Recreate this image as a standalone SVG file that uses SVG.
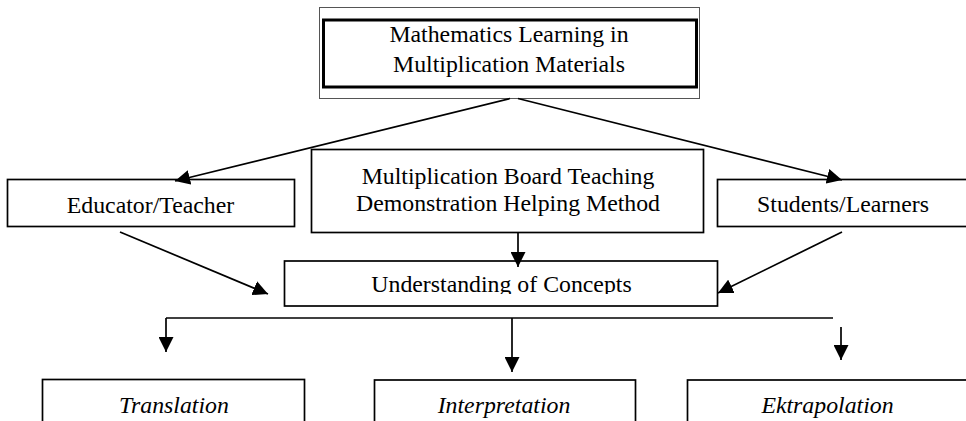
<svg xmlns="http://www.w3.org/2000/svg" width="966" height="421" viewBox="0 0 966 421">
<style>
  text { font-family: "Liberation Serif", "Times New Roman", serif; font-size: 23.8px; fill: #000; text-anchor: middle; }
  .it { font-style: italic; }
  .box { fill: #fff; stroke: #000; stroke-width: 1.7; }
  .thick { fill: #fff; stroke: #000; stroke-width: 3; }
  .thin { fill: #fff; stroke: #555; stroke-width: 1; }
  .conn { fill: none; stroke: #000; stroke-width: 1.7; }
</style>
<defs>
  <marker id="arrow" markerUnits="userSpaceOnUse" markerWidth="16" markerHeight="15" refX="15" refY="7.5" orient="auto">
    <path d="M0,0 L15,7.5 L0,15 z" fill="#000"/>
  </marker>
  <clipPath id="clipU">
    <rect x="284" y="261" width="433" height="33"/>
  </clipPath>
</defs>
<rect width="966" height="421" fill="#fff"/>

<g id="node-top">
  <rect class="thin" x="319.5" y="7.5" width="380" height="91"/>
  <rect class="thick" x="323.5" y="20" width="373" height="67"/>
  <text x="509" y="42">Mathematics Learning in</text>
  <text x="509" y="72">Multiplication Materials</text>
</g>

<g id="node-educator">
  <rect class="box" x="7.5" y="179.5" width="287" height="47"/>
  <text x="150.5" y="213">Educator/Teacher</text>
</g>

<g id="node-method">
  <rect class="box" x="311.5" y="149.5" width="392" height="83"/>
  <text x="508" y="184">Multiplication Board Teaching</text>
  <text x="508" y="211">Demonstration Helping Method</text>
</g>

<g id="node-students">
  <rect class="box" x="717.5" y="179.5" width="260" height="47"/>
  <text x="843" y="212">Students/Learners</text>
</g>

<g id="node-understanding">
  <rect class="box" x="284.5" y="261" width="433" height="45"/>
  <text x="501.5" y="292" clip-path="url(#clipU)">Understanding of Concepts</text>
</g>

<g id="node-translation">
  <rect class="box" x="42.5" y="379.5" width="262" height="60"/>
  <text class="it" x="174" y="413">Translation</text>
</g>

<g id="node-interpretation">
  <rect class="box" x="374.5" y="380" width="261" height="60"/>
  <text class="it" x="504" y="413">Interpretation</text>
</g>

<g id="node-ektrapolation">
  <rect class="box" x="687.5" y="380" width="290" height="60"/>
  <text class="it" x="827.5" y="413">Ektrapolation</text>
</g>

<g id="connectors">
  <line class="conn" x1="510" y1="98.5" x2="175" y2="181" marker-end="url(#arrow)"/>
  <line class="conn" x1="518" y1="98.5" x2="842" y2="180" marker-end="url(#arrow)"/>
  <line class="conn" x1="518" y1="232.5" x2="518" y2="267" marker-end="url(#arrow)"/>
  <line class="conn" x1="120" y1="232" x2="268" y2="294" marker-end="url(#arrow)"/>
  <line class="conn" x1="842" y1="232" x2="718" y2="293" marker-end="url(#arrow)"/>
  <line class="conn" x1="166" y1="318" x2="833" y2="318"/>
  <line class="conn" x1="166" y1="318" x2="166" y2="352" marker-end="url(#arrow)"/>
  <line class="conn" x1="512" y1="318" x2="512" y2="372" marker-end="url(#arrow)"/>
  <line class="conn" x1="841" y1="327" x2="841" y2="360" marker-end="url(#arrow)"/>
</g>
</svg>
